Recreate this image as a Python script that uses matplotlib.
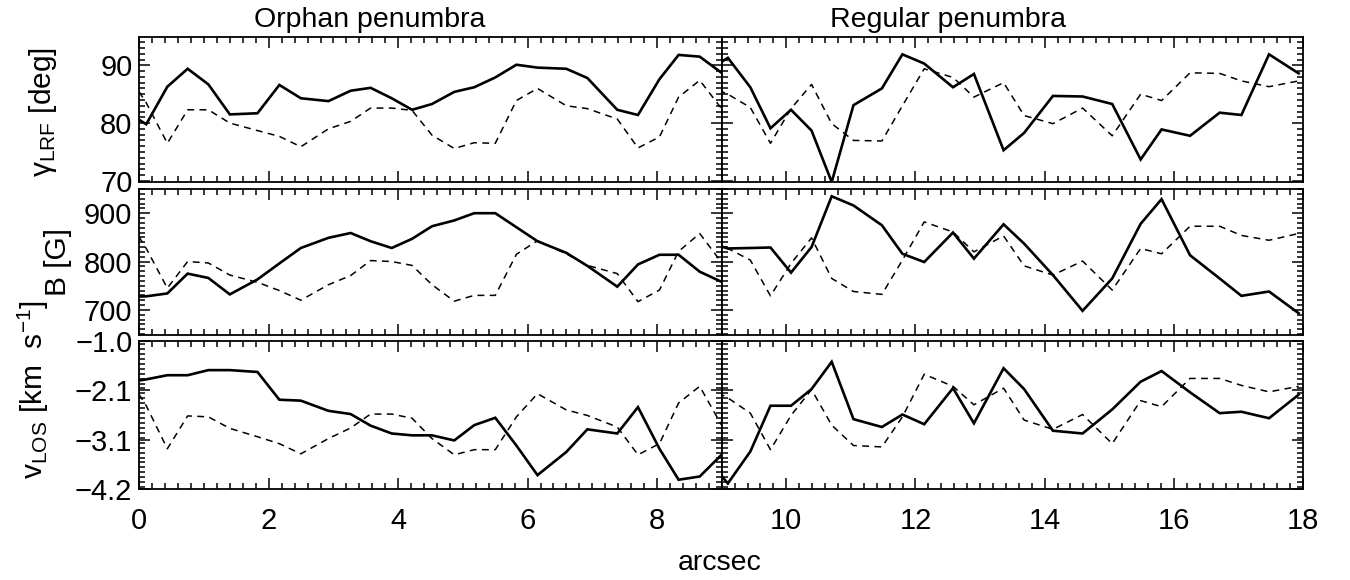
import numpy as np
import matplotlib.pyplot as plt
from matplotlib.ticker import MultipleLocator, FixedLocator, NullFormatter

plt.rcParams['font.family'] = ['Liberation Sans', 'DejaVu Sans']
plt.rcParams['mathtext.fontset'] = 'custom'
plt.rcParams['mathtext.rm'] = 'Liberation Sans'
plt.rcParams['mathtext.it'] = 'Liberation Sans:italic'
plt.rcParams['axes.unicode_minus'] = True

# positions along the cut [arcsec]
x_orphan = [-0.21, 0.107, 0.433, 0.747, 1.067, 1.399, 1.826, 2.164, 2.496, 2.922,
            3.266, 3.574, 3.900, 4.215, 4.523, 4.867, 5.175, 5.501, 5.827, 6.153,
            6.598, 6.924, 7.386, 7.706, 8.038, 8.334, 8.660, 8.998]
x_regular = [8.777, 9.095, 9.443, 9.755, 10.073, 10.391, 10.703, 11.040, 11.480,
             11.798, 12.135, 12.581, 12.905, 13.364, 13.682, 14.128, 14.587, 15.046,
             15.486, 15.810, 16.251, 16.709, 17.046, 17.474, 17.933]

# inclination in the local reference frame [deg]
gamma_orphan = [82.0, 79.8, 86.3, 89.4, 86.7, 81.5, 81.7, 86.6, 84.3, 83.8,
                85.6, 86.1, 84.3, 82.3, 83.3, 85.4, 86.2, 87.9, 90.1, 89.6,
                89.4, 87.8, 82.3, 81.4, 87.6, 91.8, 91.5, 88.7]
gamma_orphan_ref = [89.0, 83.5, 76.5, 82.3, 82.3, 80.0, 78.7, 77.7, 75.9, 79.0,
                    80.3, 82.6, 82.6, 82.2, 77.9, 75.6, 76.6, 76.5, 83.9, 86.0,
                    83.0, 82.5, 80.7, 75.7, 77.6, 84.5, 87.4, 82.5]
gamma_regular = [89.0, 91.3, 86.2, 79.1, 82.3, 78.7, 69.8, 83.1, 86.0, 91.9,
                 90.3, 86.2, 88.5, 75.3, 78.3, 84.7, 84.6, 83.3, 73.7, 78.9,
                 77.8, 81.8, 81.4, 91.9, 88.6]
gamma_regular_ref = [86.5, 85.0, 82.7, 76.5, 82.5, 86.7, 79.9, 77.0, 76.9, 83.0,
                     89.4, 87.9, 84.5, 87.0, 81.3, 79.9, 82.6, 77.8, 85.0, 83.9,
                     88.7, 88.6, 87.3, 86.3, 87.3]

# field strength [G]
b_orphan = [727, 728, 734, 775, 766, 732, 763, 796, 828, 849,
            859, 842, 828, 847, 873, 885, 900, 900, 871, 842,
            818, 791, 748, 794, 814, 814, 779, 758]
b_orphan_ref = [895, 827, 745, 800, 797, 772, 757, 740, 720, 752,
                771, 802, 800, 792, 752, 718, 730, 730, 815, 843,
                816, 792, 775, 717, 741, 821, 858, 798]
b_regular = [840, 827, 828, 829, 777, 830, 935, 916, 875, 816,
             799, 860, 806, 877, 837, 772, 698, 765, 878, 929,
             813, 765, 729, 738, 693]
b_regular_ref = [860, 827, 803, 729, 796, 849, 765, 738, 732, 803,
                 882, 861, 820, 853, 791, 772, 801, 741, 827, 816,
                 873, 873, 854, 844, 858]

# line-of-sight velocity [km/s]
v_orphan = [-1.90, -1.83, -1.74, -1.74, -1.63, -1.63, -1.67, -2.27, -2.29, -2.51,
            -2.58, -2.83, -3.00, -3.04, -3.04, -3.15, -2.82, -2.66, -3.26, -3.90,
            -3.40, -2.91, -3.00, -2.43, -3.33, -4.00, -3.93, -3.46]
v_orphan_ref = [-1.70, -2.40, -3.33, -2.62, -2.64, -2.89, -3.07, -3.22, -3.44, -3.11,
                -2.88, -2.58, -2.58, -2.67, -3.11, -3.46, -3.35, -3.35, -2.64, -2.14,
                -2.49, -2.61, -2.86, -3.46, -3.22, -2.34, -1.98, -2.82]
v_regular = [-3.55, -4.08, -3.39, -2.40, -2.40, -2.04, -1.45, -2.69, -2.86, -2.59,
             -2.80, -2.02, -2.78, -1.59, -2.04, -2.94, -3.00, -2.48, -1.88, -1.65,
             -2.11, -2.56, -2.53, -2.67, -2.16]
v_regular_ref = [-2.00, -2.23, -2.56, -3.35, -2.61, -2.05, -2.82, -3.26, -3.29, -2.64,
                 -1.72, -1.98, -2.38, -2.02, -2.71, -2.91, -2.59, -3.22, -2.29, -2.42,
                 -1.81, -1.81, -1.96, -2.10, -1.98]

gamma_ticks = [70, 80, 90]
b_ticks = [700, 800, 900]
v_ticks = np.linspace(-4.2, -1.0, 4)

FS = 20.5
TICK_FS = 21
LABEL_FS = 21.5
LEFT, MID, RIGHT = 0.1032, 0.5346, 0.9652
ROWS = [(0.6862, 0.9362), (0.4224, 0.6741), (0.1569, 0.4121)]


def _style_axis(ax, ylim, yticks, yminor, show_y, show_x):
    ax.set_ylim(*ylim)
    ax.yaxis.set_major_locator(FixedLocator(yticks))
    ax.yaxis.set_minor_locator(MultipleLocator(yminor))
    ax.xaxis.set_major_locator(MultipleLocator(2))
    ax.xaxis.set_minor_locator(MultipleLocator(0.2))
    ax.tick_params(which='both', direction='in', top=True, right=True,
                   width=1.1, labelsize=TICK_FS, pad=5)
    ax.tick_params(which='major', length=8)
    ax.tick_params(which='minor', length=4)
    for sp in ax.spines.values():
        sp.set_linewidth(1.3)
    if show_y:
        ax.set_yticklabels([('%.1f' % t if isinstance(t, float) else '%d' % t)
                            .replace('-', '\u2212') for t in yticks])
    else:
        ax.yaxis.set_major_formatter(NullFormatter())
    if not show_x:
        ax.xaxis.set_major_formatter(NullFormatter())


def _draw(ax, x, solid, dashed):
    ax.plot(x, solid, color='black', lw=1.9, solid_joinstyle='miter')
    ax.plot(x, dashed, color='black', lw=1.1, dashes=(4.5, 3.5))


fig = plt.figure(figsize=(13.5, 5.8), dpi=100)

panels = [
    (gamma_orphan, gamma_orphan_ref, gamma_regular, gamma_regular_ref,
     (69.8, 94.9), gamma_ticks, 1),
    (b_orphan, b_orphan_ref, b_regular, b_regular_ref,
     (648, 950), b_ticks, 10),
    (v_orphan, v_orphan_ref, v_regular, v_regular_ref,
     (-4.2, -1.0), [float(t) for t in v_ticks], 3.2 / 30),
]

for i, (so, do, sr, dr, ylim, yticks, yminor) in enumerate(panels):
    bottom, top = ROWS[i]
    last = i == len(panels) - 1
    ax_l = fig.add_axes([LEFT, bottom, MID - LEFT, top - bottom])
    _draw(ax_l, x_orphan, so, do)
    ax_l.set_xlim(0, 9)
    _style_axis(ax_l, ylim, yticks, yminor, True, last)

    ax_r = fig.add_axes([MID, bottom, RIGHT - MID, top - bottom])
    _draw(ax_r, x_regular, sr, dr)
    ax_r.set_xlim(9, 18)
    _style_axis(ax_r, ylim, yticks, yminor, False, last)
    if last:
        ax_l.set_xticks([0, 2, 4, 6, 8])
        ax_r.set_xticks([10, 12, 14, 16, 18])
        ax_l.tick_params(axis='x', pad=13)
        ax_r.tick_params(axis='x', pad=13)

fig.text(0.274, 0.966, 'Orphan penumbra', ha='center', va='center', fontsize=FS)
fig.text(0.702, 0.966, 'Regular penumbra', ha='center', va='center', fontsize=FS)
fig.text(0.533, 0.030, 'arcsec', ha='center', va='center', fontsize=FS)

fig.text(0.032, 0.807, r'γ$_{\rm LRF}$ [deg]', rotation=90,
         ha='center', va='center', fontsize=LABEL_FS)
fig.text(0.043, 0.548, 'B [G]', rotation=90, ha='center', va='center',
         fontsize=LABEL_FS)
fig.text(0.025, 0.328, r'v$_{\rm LOS}$ [km  s$^{-1}$]', rotation=90,
         ha='center', va='center', fontsize=LABEL_FS)

fig.savefig('out.png', dpi=100, facecolor='white')
